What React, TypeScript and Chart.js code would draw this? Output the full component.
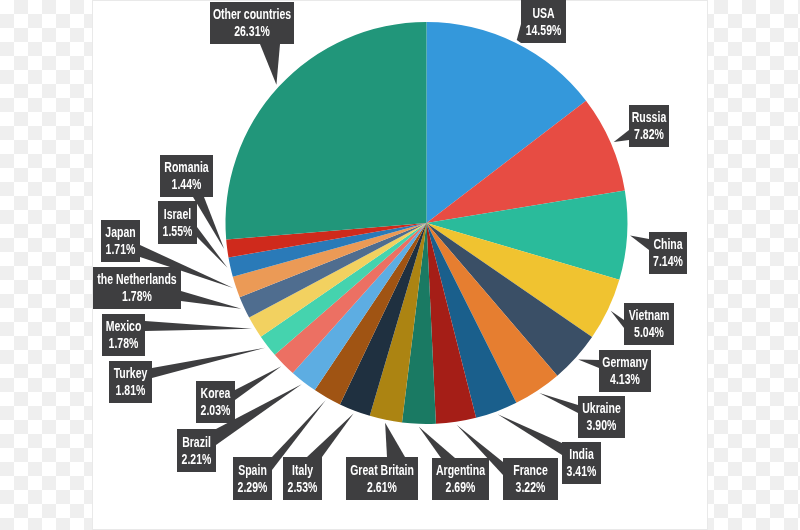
import { useRef, useEffect } from "react";
import Chart from "chart.js/auto";

const COUNTRIES = [
  "USA", "Russia", "China", "Vietnam", "Germany", "Ukraine", "India", "France",
  "Argentina", "Great Britain", "Italy", "Spain", "Brazil", "Korea", "Turkey",
  "Mexico", "the Netherlands", "Japan", "Israel", "Romania", "Other countries",
];

const SHARES = [
  14.59, 7.82, 7.14, 5.04, 4.13, 3.9, 3.41, 3.22, 2.69, 2.61, 2.53, 2.29, 2.21,
  2.03, 1.81, 1.78, 1.78, 1.71, 1.55, 1.44, 26.31,
];

const SLICE_COLORS = [
  "#3498db", "#e74c43", "#2abb9b", "#f0c330", "#3a4f66", "#e67e30", "#1a5f8c",
  "#a51e17", "#1a7a63", "#ac8412", "#1f3040", "#a05413", "#5dade2", "#ec7063",
  "#45d3ae", "#f2d160", "#4f6d8f", "#eb9a56", "#2a7ab8", "#cf2a1c", "#21967a",
];

// callout boxes, same order as COUNTRIES: x0, y0, x1, y1, then the two points
// where the pointer leaves the box
const CALLOUTS = [
  [521, 0, 566, 43, 521, 24, 521, 43],
  [629, 105, 669, 147, 629, 130, 629, 140],
  [649, 232, 687, 274, 649, 239, 649, 250],
  [624, 303, 674, 345, 624, 320, 624, 328],
  [599, 350, 651, 392, 599, 360, 599, 368],
  [578, 396, 625, 438, 578, 405, 578, 413],
  [562, 442, 601, 484, 562, 443, 562, 455],
  [503, 458, 558, 500, 503, 462, 503, 475],
  [432, 458, 489, 500, 441, 458, 455, 458],
  [346, 457, 418, 500, 387, 457, 405, 457],
  [283, 457, 322, 500, 307, 457, 322, 457],
  [233, 457, 272, 500, 272, 457, 272, 470],
  [177, 429, 216, 472, 216, 429, 216, 445],
  [196, 381, 235, 423, 235, 390, 235, 400],
  [109, 361, 152, 403, 152, 368, 152, 378],
  [102, 314, 145, 356, 145, 321, 145, 331],
  [93, 267, 181, 309, 181, 291, 181, 301],
  [101, 220, 140, 262, 140, 245, 140, 257],
  [158, 201, 197, 244, 197, 227, 197, 237],
  [160, 155, 213, 197, 193, 197, 204, 197],
  [210, 2, 294, 44, 260, 44, 280, 44],
];

const TEXT_SQUEEZE = 0.75; // no condensed face installed, so squeeze the bold one

const checkerBackground = {
  id: "checkerBackground",
  beforeDraw(chart: any) {
    const { ctx, width, height } = chart;
    ctx.save();
    ctx.fillStyle = "#ffffff";
    ctx.fillRect(0, 0, width, height);
    ctx.fillStyle = "#efefef";
    for (let row = 0; row * 14 < height; row++) {
      for (let col = 0; col * 14 < width; col++) {
        if ((row + col) % 2 === 1) ctx.fillRect(col * 14, row * 14, 14, 14);
      }
    }
    ctx.fillStyle = "#e9e9e9";
    ctx.fillRect(92, 0, 616, 530);
    ctx.fillStyle = "#ffffff";
    ctx.fillRect(93, 1, 614, 528);
    ctx.restore();
  },
};

function squeezedText(ctx: CanvasRenderingContext2D, text: string, x: number, y: number) {
  ctx.save();
  ctx.translate(x, y);
  ctx.scale(TEXT_SQUEEZE, 1);
  ctx.fillText(text, 0, 0);
  ctx.restore();
}

const calloutLabels = {
  id: "calloutLabels",
  afterDatasetsDraw(chart: any) {
    const { ctx } = chart;
    const arcs = chart.getDatasetMeta(0).data;
    ctx.save();
    ctx.textAlign = "center";
    ctx.textBaseline = "middle";
    ctx.font = 'bold 14px "Liberation Sans", sans-serif';
    COUNTRIES.forEach((name, i) => {
      const [x0, y0, x1, y1, ax, ay, bx, by] = CALLOUTS[i];
      const arc = arcs[i];
      const mid = (arc.startAngle + arc.endAngle) / 2;
      const tipR = arc.outerRadius + 3;
      ctx.fillStyle = "#3e3e40";
      ctx.beginPath();
      ctx.moveTo(ax, ay);
      ctx.lineTo(arc.x + Math.cos(mid) * tipR, arc.y + Math.sin(mid) * tipR);
      ctx.lineTo(bx, by);
      ctx.closePath();
      ctx.fill();
      ctx.fillRect(x0, y0, x1 - x0, y1 - y0);
      ctx.fillStyle = "#ffffff";
      const cx = (x0 + x1) / 2;
      squeezedText(ctx, name, cx, y1 - 29);
      squeezedText(ctx, SHARES[i].toFixed(2) + "%", cx, y1 - 12);
    });
    ctx.restore();
  },
};

export default function App() {
  const canvasRef = useRef<HTMLCanvasElement>(null);

  useEffect(() => {
    if (!canvasRef.current) return;
    const chart = new Chart(canvasRef.current, {
      type: "pie",
      data: {
        labels: COUNTRIES,
        datasets: [{ data: SHARES, backgroundColor: SLICE_COLORS, borderWidth: 0 }],
      },
      options: {
        responsive: false,
        animation: false,
        devicePixelRatio: 1,
        layout: { padding: { left: 225.5, right: 172.5, top: 22, bottom: 106 } },
        plugins: {
          legend: { display: false },
          tooltip: { enabled: false },
        },
      },
      plugins: [checkerBackground, calloutLabels],
    });
    return () => chart.destroy();
  }, []);

  return (
    <div style={{ position: "absolute", left: 0, top: 0, width: 800, height: 530 }}>
      <canvas ref={canvasRef} width={800} height={530} style={{ display: "block" }} />
    </div>
  );
}
